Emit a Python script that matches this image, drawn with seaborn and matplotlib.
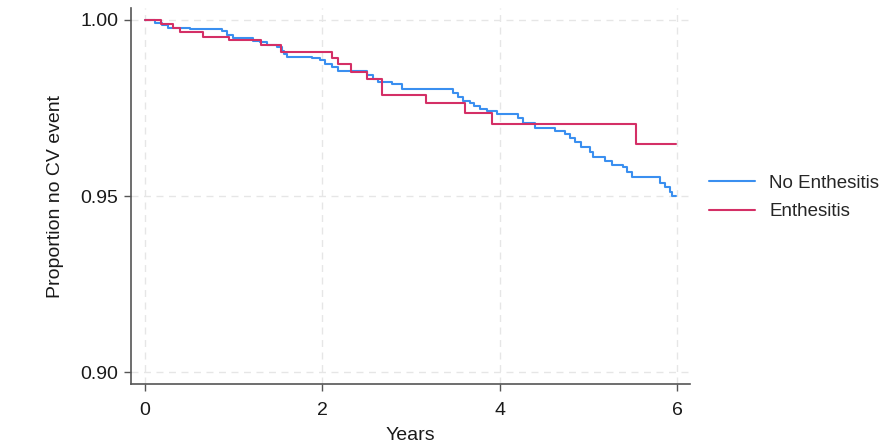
import numpy as np
import pandas as pd
import matplotlib
matplotlib.use("Agg")
import matplotlib.pyplot as plt
import seaborn as sns

# Kaplan-Meier step values (years, proportion event free)
no_enth_time = [0.0, 0.118, 0.197, 0.265, 0.512, 0.659, 0.873, 0.929, 0.997, 1.222,
                1.301, 1.380, 1.492, 1.545, 1.571, 1.605, 1.886, 1.976, 2.033, 2.111,
                2.179, 2.502, 2.573, 2.629, 2.787, 2.900, 3.474, 3.530, 3.587, 3.666,
                3.711, 3.778, 3.857, 3.970, 4.206, 4.262, 4.398, 4.623, 4.735, 4.792,
                4.848, 4.916, 5.017, 5.051, 5.186, 5.265, 5.389, 5.434, 5.490, 5.805,
                5.861, 5.917, 5.940, 5.985]
no_enth_surv = [1.0, 0.9992, 0.9986, 0.9978, 0.9975, 0.9973, 0.9968, 0.9957, 0.9948, 0.9941,
                0.9936, 0.9929, 0.9922, 0.9913, 0.9904, 0.9896, 0.9891, 0.9885, 0.9875, 0.9865,
                0.9856, 0.9844, 0.9832, 0.9825, 0.9818, 0.9805, 0.9792, 0.9780, 0.9771, 0.9763,
                0.9756, 0.9748, 0.9741, 0.9733, 0.9721, 0.9706, 0.9694, 0.9685, 0.9676, 0.9664,
                0.9654, 0.9638, 0.9626, 0.9612, 0.9600, 0.9588, 0.9583, 0.9569, 0.9555, 0.9538,
                0.9526, 0.9512, 0.9500, 0.9500]

enth_time = [0.0, 0.186, 0.321, 0.405, 0.659, 0.952, 1.309, 1.532, 2.111, 2.182,
             2.331, 2.509, 2.680, 3.170, 3.615, 3.910, 5.532, 5.985]
enth_surv = [1.0, 0.9989, 0.9977, 0.9966, 0.9953, 0.9942, 0.9928, 0.9910, 0.9893, 0.9874,
             0.9852, 0.9832, 0.9787, 0.9763, 0.9735, 0.9705, 0.9649, 0.9649]

groups = ["No Enthesitis", "Enthesitis"]
colors = {"No Enthesitis": "#3a8ff0", "Enthesitis": "#d42f66"}

df = pd.concat([
    pd.DataFrame({"time": no_enth_time, "surv": no_enth_surv, "group": groups[0]}),
    pd.DataFrame({"time": enth_time, "surv": enth_surv, "group": groups[1]}),
], ignore_index=True)

sns.set_style("white")
plt.rcParams["font.family"] = ["Liberation Sans", "DejaVu Sans"]

fig = plt.figure(figsize=(8.89, 4.44), dpi=100)
ax = fig.add_axes([0.1474, 0.1351, 0.6287, 0.8469])

sns.lineplot(data=df, x="time", y="surv", hue="group", hue_order=groups,
             palette=colors, estimator=None, sort=False, drawstyle="steps-post",
             linewidth=1.5, ax=ax)

ax.set_xlim(-0.152, 6.143)
ax.set_ylim(0.8966, 1.0034)
ax.set_xticks([0, 2, 4, 6])
ax.set_yticks([0.90, 0.95, 1.00])
ax.set_yticklabels(["0.90", "0.95", "1.00"])
ax.grid(True, linestyle=(0, (5, 4)), color="#e6e6e6", linewidth=1.0)
ax.set_axisbelow(True)

for side in ["top", "right"]:
    ax.spines[side].set_visible(False)
for side in ["left", "bottom"]:
    ax.spines[side].set_color("#555555")
    ax.spines[side].set_linewidth(1.2)

ax.tick_params(axis="both", which="major", labelsize=14, length=5, width=1,
               color="#555555", labelcolor="#1a1a1a", left=True, bottom=True)
ax.tick_params(axis="x", pad=8)
ax.tick_params(axis="y", pad=4)

ax.set_xlabel("Years", fontsize=14, color="#1a1a1a", labelpad=6)
ax.set_ylabel("Proportion no CV event", fontsize=14, color="#1a1a1a", labelpad=12)

ax.legend(title=None, frameon=False, fontsize=13.5, loc="center left",
          bbox_to_anchor=(0.778, 0.555), bbox_transform=fig.transFigure,
          handlelength=2.5, handletextpad=0.75, labelspacing=0.6)

fig.savefig("out.png", dpi=100)
